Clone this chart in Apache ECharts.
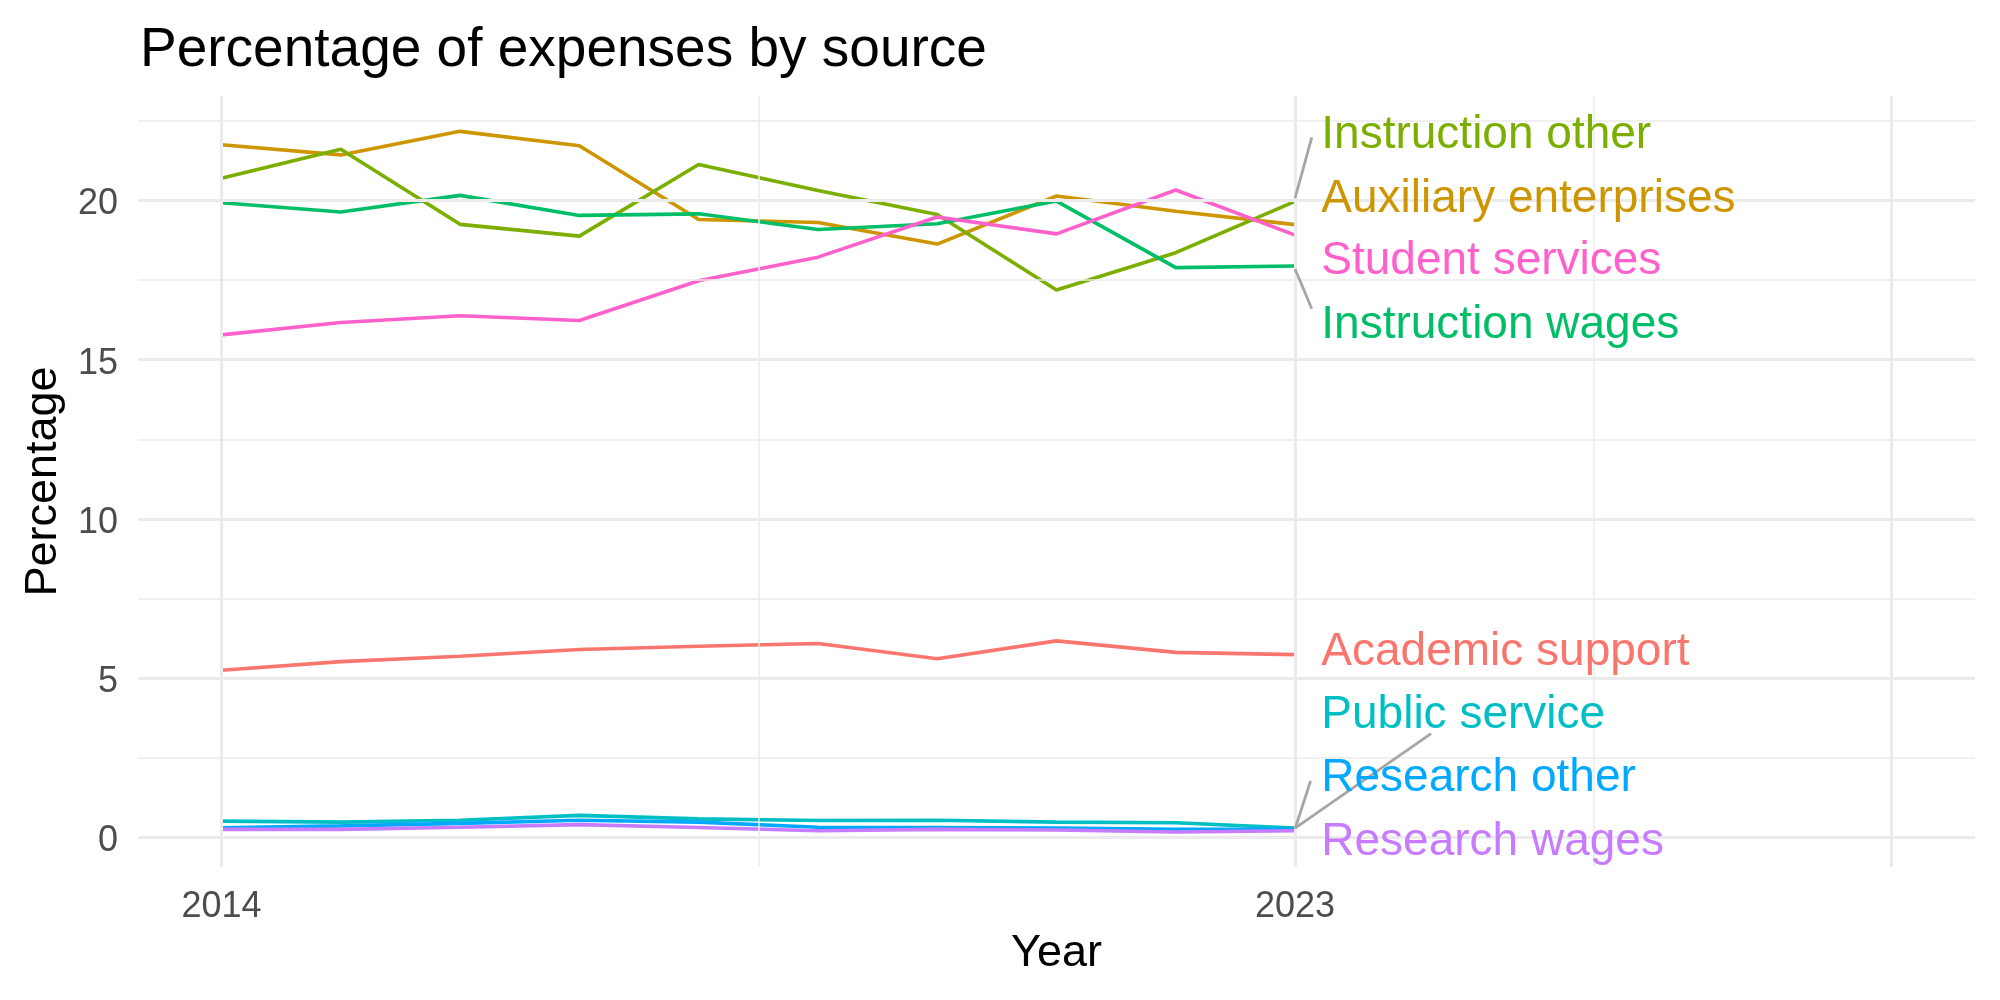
<!DOCTYPE html>
<html>
<head>
<meta charset="utf-8">
<script src="https://cdn.jsdelivr.net/npm/echarts@6.0.0/dist/echarts.min.js"></script>
<style>
    html, body { margin: 0; padding: 0; background: #fff; }
    #chart { width: 2000px; height: 1000px; }
</style>
</head>
<body>
<div id="chart"></div>
<script>
// values (percent of expenses)
var years = [2014, 2015, 2016, 2017, 2018, 2019, 2020, 2021, 2022, 2023];
var academicSupport      = [5.25, 5.52, 5.69, 5.90, 6.00, 6.09, 5.61, 6.17, 5.81, 5.74];
var auxiliaryEnterprises = [21.75, 21.43, 22.17, 21.72, 19.40, 19.31, 18.63, 20.14, 19.66, 19.24];
var instructionOther     = [20.70, 21.61, 19.25, 18.88, 21.13, 20.31, 19.56, 17.19, 18.36, 19.97];
var instructionWages     = [19.93, 19.64, 20.16, 19.53, 19.58, 19.09, 19.27, 19.98, 17.89, 17.94];
var publicService        = [0.51, 0.48, 0.54, 0.69, 0.58, 0.53, 0.54, 0.48, 0.46, 0.29];
var researchOther        = [0.30, 0.36, 0.44, 0.54, 0.48, 0.32, 0.31, 0.29, 0.25, 0.25];
var researchWages        = [0.25, 0.25, 0.32, 0.40, 0.31, 0.21, 0.25, 0.23, 0.17, 0.21];
var studentServices      = [15.78, 16.17, 16.38, 16.23, 17.48, 18.22, 19.48, 18.95, 20.33, 18.91];

var sources = ['Academic support', 'Auxiliary enterprises', 'Instruction other', 'Instruction wages',
               'Public service', 'Research other', 'Research wages', 'Student services'];
var sourceValues = [academicSupport, auxiliaryEnterprises, instructionOther, instructionWages,
                    publicService, researchOther, researchWages, studentServices];

var xTicks = [2014, 2023];
var yTicks = [0, 5, 10, 15, 20];

// repelled label positions (y in percent) and their leader segments
var labelX = 2023.22;
var labelY = [5.81, 20.04, 22.05, 16.09, 3.84, 1.84, -0.14, 18.08];
var leaders = [
    [[2023, 20.07], [2023.14, 21.98]],
    [[2023, 17.85], [2023.14, 16.6]],
    [[2023, 0.27], [2023.13, 1.77]],
    [[2023, 0.29], [2024.14, 3.26]]
];

var colors = ['#F8766D', '#CD9600', '#7CAE00', '#00BE67', '#00BFC4', '#00A9FF', '#C77CFF', '#FF61CC'];
var font = 'Liberation Sans, Arial, sans-serif';

var majorX = [2014, 2023, 2028], minorX = [2018.5, 2025.5];
var majorY = [0, 5, 10, 15, 20], minorY = [2.5, 7.5, 12.5, 17.5, 22.5];

function gridLine(axis, v, w) {
    var item = { lineStyle: { color: '#EBEBEB', width: w, type: 'solid' } };
    item[axis] = v;
    return item;
}

var gridData = []
    .concat(minorY.map(function(v) { return gridLine('yAxis', v, 1.5); }))
    .concat(minorX.map(function(v) { return gridLine('xAxis', v, 1.5); }))
    .concat(majorY.map(function(v) { return gridLine('yAxis', v, 3); }))
    .concat(majorX.map(function(v) { return gridLine('xAxis', v, 3); }));

var series = [{
    name: 'grid',
    type: 'line',
    data: [],
    silent: true,
    z: 1,
    markLine: {
        silent: true,
        animation: false,
        symbol: ['none', 'none'],
        label: { show: false },
        data: gridData
    }
}];

sources.forEach(function(name, i) {
    series.push({
        name: name,
        type: 'line',
        showSymbol: false,
        symbol: 'none',
        z: 3,
        data: years.map(function(y, j) { return [y, sourceValues[i][j]]; }),
        lineStyle: { color: colors[i], width: 3.6 },
        itemStyle: { color: colors[i] },
        markPoint: {
            silent: true,
            animation: false,
            symbol: 'circle',
            symbolSize: 0,
            data: [{ coord: [labelX, labelY[i]] }],
            label: {
                show: true,
                position: 'right',
                distance: 0,
                formatter: name,
                color: colors[i],
                fontSize: 46,
                fontFamily: font
            }
        }
    });
});

series.push({
    name: 'leaders',
    type: 'line',
    data: [],
    silent: true,
    z: 4,
    markLine: {
        silent: true,
        animation: false,
        symbol: ['none', 'none'],
        label: { show: false },
        lineStyle: { color: '#A6A6A6', width: 2.8, type: 'solid' },
        data: leaders.map(function(s) { return [{ coord: s[0] }, { coord: s[1] }]; })
    }
});

var option = {
    animation: false,
    backgroundColor: '#fff',
    title: {
        text: 'Percentage of expenses by source',
        left: 140,
        top: 23,
        padding: 0,
        textStyle: { fontSize: 55, fontWeight: 'normal', color: '#000', fontFamily: font }
    },
    grid: { left: 138, right: 25, top: 96, bottom: 133 },
    xAxis: {
        type: 'value',
        min: 2013.3,
        max: 2028.7,
        axisLine: { show: false },
        axisTick: { show: false },
        splitLine: { show: false },
        axisLabel: {
            customValues: xTicks,
            formatter: function(v) { return String(v); },
            color: '#4D4D4D', fontSize: 36, margin: 22, fontFamily: font
        },
        name: 'Year',
        nameLocation: 'middle',
        nameGap: 64,
        nameTextStyle: { fontSize: 45, color: '#000', fontFamily: font }
    },
    yAxis: {
        type: 'value',
        min: -0.93,
        max: 23.28,
        axisLine: { show: false },
        axisTick: { show: false },
        splitLine: { show: false },
        axisLabel: {
            customValues: yTicks,
            formatter: function(v) { return '{t|' + v + '}'; },
            rich: { t: { color: '#4D4D4D', fontSize: 36, fontFamily: font, padding: [8, 0, 0, 0] } },
            margin: 20
        },
        name: 'Percentage',
        nameLocation: 'middle',
        nameRotate: 90,
        nameGap: 72,
        nameTextStyle: { fontSize: 45, color: '#000', fontFamily: font }
    },
    series: series
};

var chart = echarts.init(document.getElementById("chart"));
chart.setOption(option);
</script>
</body>
</html>
